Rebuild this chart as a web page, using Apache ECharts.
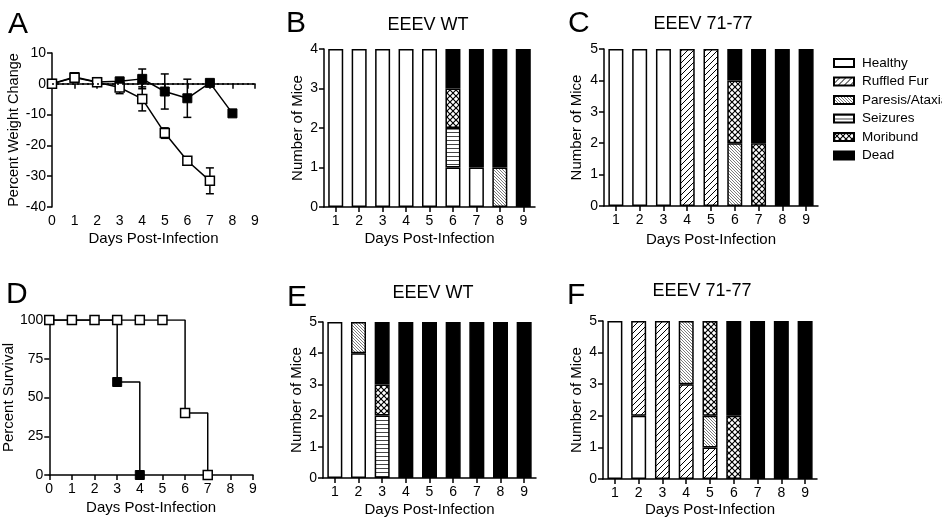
<!DOCTYPE html>
<html>
<head>
<meta charset="utf-8">
<title>EEEV infection</title>
<script src="https://cdn.jsdelivr.net/npm/echarts@6/dist/echarts.min.js"></script>
<style>
  html, body { margin: 0; padding: 0; background: #fff; }
  #chart { width: 942px; height: 521px; }
</style>
</head>
<body>
<div id="chart"></div>
<script>
// Panel A - percent weight change
const weightDaysFilled = [0, 1, 2, 3, 4, 5, 6, 7, 8];
const weightFilled = [0, 2.2, 0.6, 0.8, 1.6, -2.5, -4.7, 0.3, -9.6];
const weightFilledErr = [0, 0.5, 0.5, 0.5, 3.2, 5.7, 6.2, 0, 0];
const weightDaysOpen = [0, 1, 2, 3, 4, 5, 6, 7];
const weightOpen = [0, 2.0, 0.5, -1.2, -4.9, -16, -25, -31.5];
const weightOpenErr = [0, 0.5, 0.5, 2.0, 3.9, 1.7, 1.2, 4.2];

// Panel D - survival
const survivalDaysFilled = [0, 3, 4];
const survivalFilled = [100, 60, 0];
const survivalDaysOpen = [0, 1, 2, 3, 4, 5, 6, 7];
const survivalOpen = [100, 100, 100, 100, 100, 100, 40, 0];

// Bar panels
const barDays = ['1', '2', '3', '4', '5', '6', '7', '8', '9'];
const statusNames = ['Healthy', 'Ruffled Fur', 'Paresis/Ataxia', 'Seizures', 'Moribund', 'Dead'];

// B - EEEV WT
const healthyB  = [4, 4, 4, 4, 4, 1, 1, 0, 0];
const ruffledB  = [0, 0, 0, 0, 0, 0, 0, 0, 0];
const paresisB  = [0, 0, 0, 0, 0, 0, 0, 1, 0];
const seizuresB = [0, 0, 0, 0, 0, 1, 0, 0, 0];
const moribundB = [0, 0, 0, 0, 0, 1, 0, 0, 0];
const deadB     = [0, 0, 0, 0, 0, 1, 3, 3, 4];

// C - EEEV 71-77
const healthyC  = [5, 5, 5, 0, 0, 0, 0, 0, 0];
const ruffledC  = [0, 0, 0, 5, 5, 0, 0, 0, 0];
const paresisC  = [0, 0, 0, 0, 0, 2, 0, 0, 0];
const seizuresC = [0, 0, 0, 0, 0, 0, 0, 0, 0];
const moribundC = [0, 0, 0, 0, 0, 2, 2, 0, 0];
const deadC     = [0, 0, 0, 0, 0, 1, 3, 5, 5];

// E - EEEV WT
const healthyE  = [5, 4, 0, 0, 0, 0, 0, 0, 0];
const ruffledE  = [0, 0, 0, 0, 0, 0, 0, 0, 0];
const paresisE  = [0, 1, 0, 0, 0, 0, 0, 0, 0];
const seizuresE = [0, 0, 2, 0, 0, 0, 0, 0, 0];
const moribundE = [0, 0, 1, 0, 0, 0, 0, 0, 0];
const deadE     = [0, 0, 2, 5, 5, 5, 5, 5, 5];

// F - EEEV 71-77
const healthyF  = [5, 2, 0, 0, 0, 0, 0, 0, 0];
const ruffledF  = [0, 3, 5, 3, 1, 0, 0, 0, 0];
const paresisF  = [0, 0, 0, 2, 1, 0, 0, 0, 0];
const seizuresF = [0, 0, 0, 0, 0, 0, 0, 0, 0];
const moribundF = [0, 0, 0, 0, 3, 2, 0, 0, 0];
const deadF     = [0, 0, 0, 0, 0, 3, 5, 5, 5];

const FONT = '"Liberation Sans", Arial, sans-serif';

// hatch tiles
function tile(size, draw) {
    const c = document.createElement('canvas');
    c.width = size; c.height = size;
    const ctx = c.getContext('2d');
    ctx.fillStyle = '#fff';
    ctx.fillRect(0, 0, size, size);
    draw(ctx, size);
    return { image: c, repeat: 'repeat' };
}
function diag(ctx, s, dir, w, col) {
    ctx.strokeStyle = col;
    ctx.lineWidth = w;
    ctx.beginPath();
    for (let k = -1; k <= 1; k++) {
        if (dir > 0) { ctx.moveTo(k * s, s); ctx.lineTo(k * s + s, 0); }
        else { ctx.moveTo(k * s, 0); ctx.lineTo(k * s + s, s); }
    }
    ctx.stroke();
}
const fills = {
    'Healthy': '#fff',
    'Ruffled Fur': tile(6, (ctx, s) => diag(ctx, s, 1, 1, '#000')),
    'Paresis/Ataxia': tile(3, (ctx, s) => diag(ctx, s, -1, 0.7, '#444')),
    'Seizures': tile(4, (ctx, s) => { ctx.fillStyle = '#444'; ctx.fillRect(0, 0, s, 1); }),
    'Moribund': tile(6, (ctx, s) => { diag(ctx, s, 1, 1.2, '#000'); diag(ctx, s, -1, 1.2, '#000'); }),
    'Dead': '#000'
};

const panels = [
    { grid: 1, data: [healthyB, ruffledB, paresisB, seizuresB, moribundB, deadB], max: 4 },
    { grid: 2, data: [healthyC, ruffledC, paresisC, seizuresC, moribundC, deadC], max: 5 },
    { grid: 4, data: [healthyE, ruffledE, paresisE, seizuresE, moribundE, deadE], max: 5 },
    { grid: 5, data: [healthyF, ruffledF, paresisF, seizuresF, moribundF, deadF], max: 5 }
];

const axisLine = { show: true, lineStyle: { color: '#000', width: 1.5 } };
const axisTick = { show: true, length: 5, lineStyle: { color: '#000', width: 1.5 } };
const xLabel = { color: '#000', fontSize: 14, fontFamily: FONT, margin: 7 };
const yLabel = { color: '#000', fontSize: 14, fontFamily: FONT, margin: 6 };
const nameStyle = { color: '#000', fontSize: 15, fontFamily: FONT };

const grids = [
    { left: 52, top: 53, width: 203, height: 154 },   // A
    { left: 324, top: 49, width: 211, height: 158 },  // B
    { left: 604, top: 49, width: 214, height: 157 },  // C
    { left: 47, top: 320, width: 206, height: 155 },  // D
    { left: 323, top: 322, width: 213, height: 156 }, // E
    { left: 603, top: 321, width: 214, height: 158 }  // F
];
const xNameGap = [24, 24, 26, 25, 24, 23];
const yNameGap = [31, 19, 20, 23, 19, 19];
const yNames = ['Percent Weight Change', 'Number of Mice', 'Number of Mice', 'Percent Survival', 'Number of Mice', 'Number of Mice'];

const xAxes = [], yAxes = [];
grids.forEach((g, i) => {
    const isBar = [1, 2, 4, 5].includes(i);
    if (isBar) {
        xAxes.push({
            gridIndex: i, type: 'category', data: barDays,
            axisLine, axisTick: Object.assign({ alignWithLabel: true }, axisTick), axisLabel: xLabel,
            name: 'Days Post-Infection', nameLocation: 'middle', nameGap: xNameGap[i], nameTextStyle: nameStyle
        });
        const p = panels.find(pp => pp.grid === i);
        yAxes.push({
            gridIndex: i, type: 'value', min: 0, max: p.max, interval: 1,
            axisLine, axisTick, axisLabel: yLabel, splitLine: { show: false },
            name: yNames[i], nameLocation: 'middle', nameGap: yNameGap[i], nameTextStyle: nameStyle
        });
    } else {
        xAxes.push({
            gridIndex: i, type: 'value', min: 0, max: 9, interval: 1,
            axisLine, axisTick, axisLabel: xLabel, splitLine: { show: false },
            name: 'Days Post-Infection', nameLocation: 'middle', nameGap: xNameGap[i], nameTextStyle: nameStyle
        });
        yAxes.push(i === 0 ? {
            gridIndex: i, type: 'value', min: -40, max: 10, interval: 10,
            axisLine, axisTick, axisLabel: yLabel, splitLine: { show: false },
            name: yNames[i], nameLocation: 'middle', nameGap: yNameGap[i], nameTextStyle: Object.assign({}, nameStyle, { fontSize: 14.5 })
        } : {
            gridIndex: i, type: 'value', min: 0, max: 100, interval: 25,
            axisLine, axisTick, axisLabel: yLabel, splitLine: { show: false },
            name: yNames[i], nameLocation: 'middle', nameGap: yNameGap[i], nameTextStyle: nameStyle
        });
    }
});

const series = [];

// error bars for A
function errData(days, mean, err) {
    return days.map((d, i) => [d, mean[i] - err[i], mean[i] + err[i]]).filter((r, i) => err[i] > 0);
}
function renderErr(params, api) {
    const x = api.value(0);
    const lo = api.coord([x, api.value(1)]);
    const hi = api.coord([x, api.value(2)]);
    const st = { stroke: '#000', lineWidth: 1.5 };
    return {
        type: 'group',
        children: [
            { type: 'line', shape: { x1: lo[0], y1: lo[1], x2: hi[0], y2: hi[1] }, style: st },
            { type: 'line', shape: { x1: lo[0] - 4, y1: lo[1], x2: lo[0] + 4, y2: lo[1] }, style: st },
            { type: 'line', shape: { x1: hi[0] - 4, y1: hi[1], x2: hi[0] + 4, y2: hi[1] }, style: st }
        ]
    };
}
series.push({
    type: 'custom', xAxisIndex: 0, yAxisIndex: 0, z: 1,
    renderItem: renderErr, encode: { x: 0, y: [1, 2] },
    data: errData(weightDaysFilled, weightFilled, weightFilledErr)
});
series.push({
    type: 'custom', xAxisIndex: 0, yAxisIndex: 0, z: 1,
    renderItem: renderErr, encode: { x: 0, y: [1, 2] },
    data: errData(weightDaysOpen, weightOpen, weightOpenErr)
});
series.push({
    name: 'WT weight', type: 'line', xAxisIndex: 0, yAxisIndex: 0, z: 3,
    data: weightDaysFilled.map((d, i) => [d, weightFilled[i]]),
    symbol: 'rect', symbolSize: 9, showAllSymbol: true,
    lineStyle: { color: '#000', width: 1.5 },
    itemStyle: { color: '#000', borderColor: '#000', borderWidth: 1 },
    markLine: {
        silent: true, symbol: 'none', label: { show: false },
        lineStyle: { color: '#000', width: 1.5, type: [2, 3] },
        data: [{ yAxis: 0 }]
    }
});
series.push({
    name: '71-77 weight', type: 'line', xAxisIndex: 0, yAxisIndex: 0, z: 4,
    data: weightDaysOpen.map((d, i) => [d, weightOpen[i]]),
    symbol: 'rect', symbolSize: 9, showAllSymbol: true,
    lineStyle: { color: '#000', width: 1.5 },
    itemStyle: { color: '#fff', borderColor: '#000', borderWidth: 1.5 }
});

// survival D
series.push({
    type: 'line', xAxisIndex: 3, yAxisIndex: 3, step: 'end', z: 3,
    data: survivalDaysFilled.map((d, i) => [d, survivalFilled[i]]),
    symbol: 'rect', symbolSize: 9,
    lineStyle: { color: '#000', width: 1.5 },
    itemStyle: { color: '#000', borderColor: '#000', borderWidth: 1 }
});
series.push({
    type: 'line', xAxisIndex: 3, yAxisIndex: 3, step: 'end', z: 4,
    data: survivalDaysOpen.map((d, i) => [d, survivalOpen[i]]),
    symbol: 'rect', symbolSize: 9,
    lineStyle: { color: '#000', width: 1.5 },
    itemStyle: { color: '#fff', borderColor: '#000', borderWidth: 1.5 }
});

// stacked bars
panels.forEach(p => {
    p.data.forEach((arr, k) => {
        series.push({
            name: statusNames[k], type: 'bar', stack: 'g' + p.grid,
            xAxisIndex: p.grid, yAxisIndex: p.grid, barWidth: 15,
            data: arr.map(v => v === 0 ? '-' : v),
            itemStyle: { color: fills[statusNames[k]], borderColor: '#000', borderWidth: 1.5 },
            emphasis: { disabled: true }
        });
    });
});

function txt(x, y, text, size, align) {
    return { type: 'text', left: x, top: y, style: { text, fontSize: size, fontFamily: FONT, fill: '#000', textAlign: align || 'left' } };
}

const chart = echarts.init(document.getElementById('chart'), null, { renderer: 'canvas' });
chart.setOption({
    animation: false,
    backgroundColor: '#fff',
    grid: grids,
    xAxis: xAxes,
    yAxis: yAxes,
    legend: {
        data: statusNames, orient: 'vertical', left: 833, top: 56, padding: 0,
        itemWidth: 20, itemHeight: 8, itemGap: 4.5, icon: 'rect',
        textStyle: { color: '#000', fontSize: 13.5, fontFamily: FONT, padding: [0, 0, 0, 3] },
        selectedMode: false
    },
    graphic: [
        txt(8, 10, 'A', 30), txt(286, 9, 'B', 30), txt(568, 9, 'C', 30),
        txt(6, 280, 'D', 30), txt(287, 283, 'E', 30), txt(567, 281, 'F', 30),
        { type: 'text', x: 428, y: 16, style: { text: 'EEEV WT', fontSize: 18, fontFamily: FONT, fill: '#000', align: 'center' } },
        { type: 'text', x: 703, y: 15, style: { text: 'EEEV 71-77', fontSize: 18, fontFamily: FONT, fill: '#000', align: 'center' } },
        { type: 'text', x: 433, y: 284, style: { text: 'EEEV WT', fontSize: 18, fontFamily: FONT, fill: '#000', align: 'center' } },
        { type: 'text', x: 702, y: 282, style: { text: 'EEEV 71-77', fontSize: 18, fontFamily: FONT, fill: '#000', align: 'center' } }
    ],
    series
});
</script>
</body>
</html>
